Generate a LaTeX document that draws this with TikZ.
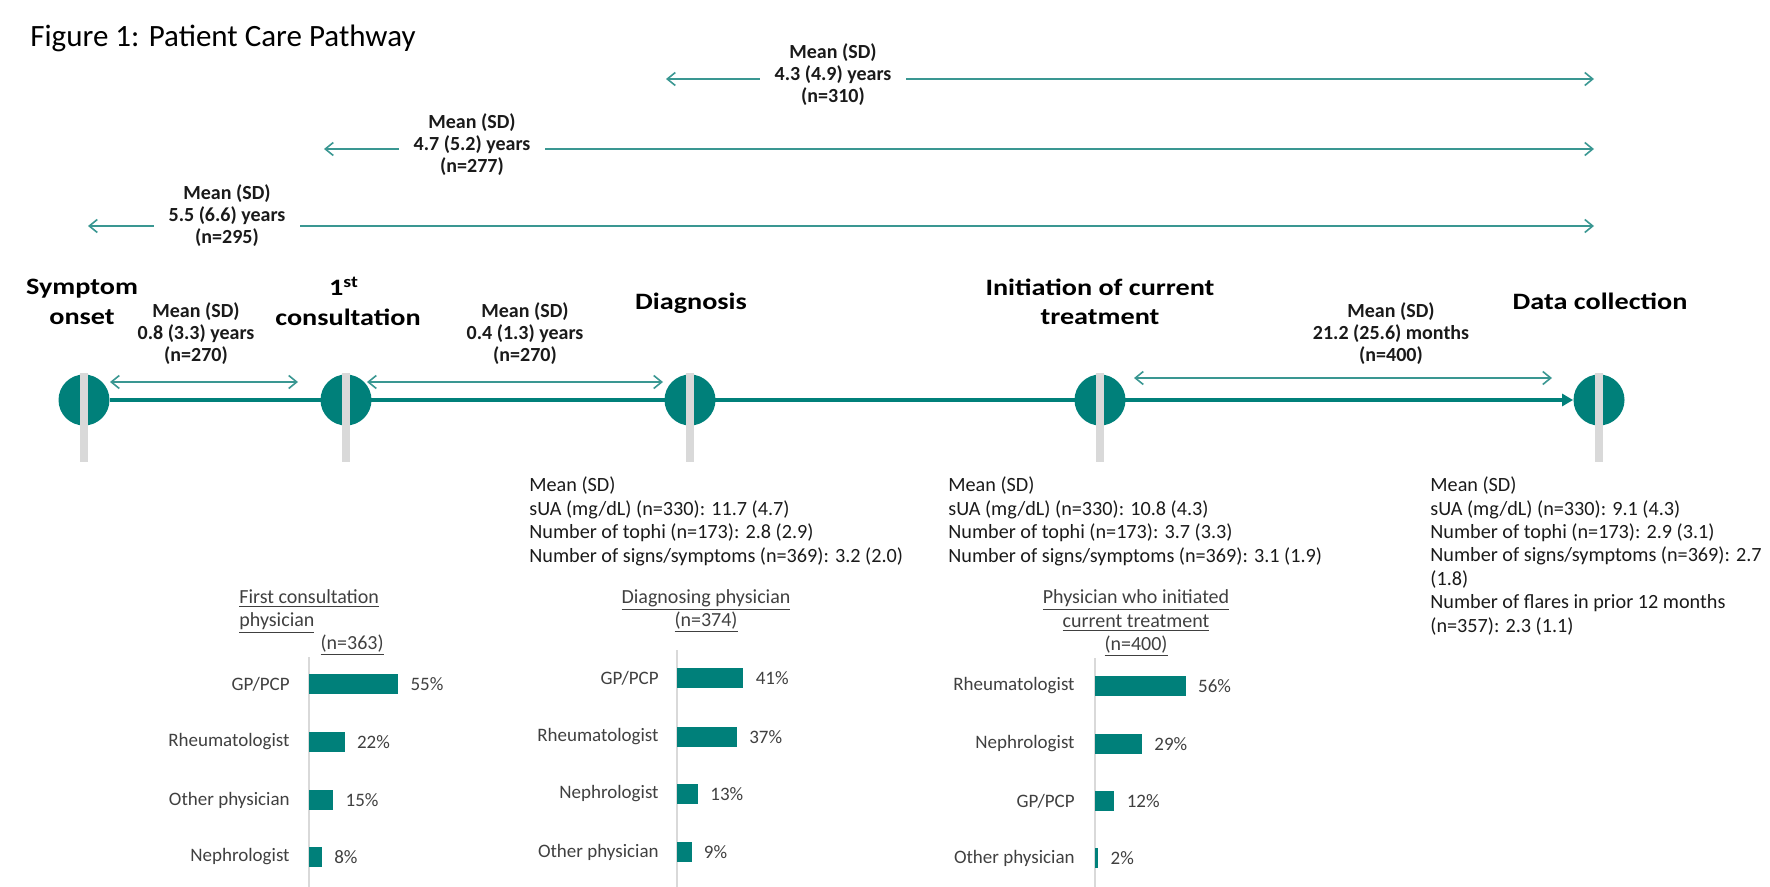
\documentclass[tikz,border=0pt]{standalone}
\usepackage{fontspec}
\setmainfont{Carlito}
\newfontfamily\hdrfont[FakeStretch=1.2]{Carlito}
\usetikzlibrary{arrows.meta}

\definecolor{pathteal}{HTML}{00807A}
\definecolor{spanteal}{HTML}{3A9792}
\definecolor{stemgray}{HTML}{D9D9D9}
\definecolor{labelgray}{HTML}{404040}
\definecolor{txtblack}{HTML}{1A1A1A}

\tikzset{
    milestone/.style={circle, fill=pathteal, minimum size=25.5pt, inner sep=0pt},
    hdr/.style={font=\hdrfont\fontsize{11.75}{14}\selectfont\bfseries, anchor=base, inner sep=0pt},
    gaplbl/.style={font=\fontsize{10}{11}\selectfont\bfseries, text=txtblack, align=center, inner sep=0pt},
    toplbl/.style={gaplbl, fill=white, inner xsep=7.5pt, inner ysep=1pt},
    spanarrow/.style={{Straight Barb[length=4pt,width=6.5pt]}-{Straight Barb[length=4pt,width=6.5pt]}, spanteal, line width=0.8pt},
    datablk/.style={font=\fontsize{10.1}{11.7}\selectfont, text=txtblack, align=left, anchor=base west, inner sep=0pt},
    charthdr/.style={font=\fontsize{10}{11.5}\selectfont, text=labelgray, inner sep=0pt},
    cat/.style={font=\fontsize{9.5}{11}\selectfont, text=labelgray, anchor=east, inner sep=0pt},
    pct/.style={font=\fontsize{9.5}{11}\selectfont, text=labelgray, anchor=west, inner sep=0pt},
    bar/.style={fill=pathteal},
    chartaxis/.style={draw=stemgray, line width=0.6pt}
}

\begin{document}
\begin{tikzpicture}[x=0.5pt, y=-0.5pt]
            \useasboundingbox (0,0) rectangle (1770,887);

            \node[anchor=base west, font=\fontsize{15.5}{18}\selectfont, inner sep=0pt] (title) at (30,47) {Figure 1: Patient Care Pathway};

            \coordinate (t1l) at (666,79);
            \coordinate (t1r) at (1594,79);
            \coordinate (t2l) at (324,149);
            \coordinate (t2r) at (1594,149);
            \coordinate (t3l) at (88,226);
            \coordinate (t3r) at (1594,226);
            \draw[spanarrow] (t1l) -- (t1r);
            \draw[spanarrow] (t2l) -- (t2r);
            \draw[spanarrow] (t3l) -- (t3r);
            \node[toplbl] (t1) at (833,75) {Mean (SD)\\4.3 (4.9) years\\(n=310)};
            \node[toplbl] (t2) at (472,145) {Mean (SD)\\4.7 (5.2) years\\(n=277)};
            \node[toplbl] (t3) at (227,216) {Mean (SD)\\5.5 (6.6) years\\(n=295)};

            \node[hdr] (hsym) at (82,295) {Symptom};
            \node[hdr] (honset) at (82,325) {onset};
            \node[hdr] (hfirst) at (344,296) {1\textsuperscript{st}};
            \node[hdr] (hcons) at (348,326) {consultation};
            \node[hdr] (hdiag) at (691,310) {Diagnosis};
            \node[hdr] (hinit) at (1100,296) {Initiation of current};
            \node[hdr] (htreat) at (1100,325) {treatment};
            \node[hdr] (hdata) at (1600,310) {Data collection};

            \node[milestone] (onset) at (84,400) {};
            \node[milestone] (consult) at (346,400) {};
            \node[milestone] (diag) at (690,400) {};
            \node[milestone] (init) at (1100,400) {};
            \node[milestone] (collect) at (1599,400) {};
            \draw[pathteal, line width=2.2pt, -{Triangle[length=5.5pt,width=6pt]}] (onset) -- (collect);
            \foreach \m in {onset,consult,diag,init,collect}
                \fill[stemgray] ([xshift=-2.2pt,yshift=13.5pt]\m.center) rectangle ([xshift=2.2pt,yshift=-31pt]\m.center);

            \coordinate (g1l) at (110,382);
            \coordinate (g1r) at (298,382);
            \coordinate (g2l) at (367,382);
            \coordinate (g2r) at (663,382);
            \coordinate (g3l) at (1134,378);
            \coordinate (g3r) at (1552,378);
            \draw[spanarrow] (g1l) -- (g1r);
            \draw[spanarrow] (g2l) -- (g2r);
            \draw[spanarrow] (g3l) -- (g3r);
            \node[gaplbl] (g1) at (196,334) {Mean (SD)\\0.8 (3.3) years\\(n=270)};
            \node[gaplbl] (g2) at (525,334) {Mean (SD)\\0.4 (1.3) years\\(n=270)};
            \node[gaplbl] (g3) at (1391,334) {Mean (SD)\\21.2 (25.6) months\\(n=400)};

            \node[datablk] (d1) at (529,562) {Mean (SD)\\sUA (mg/dL) (n=330): 11.7 (4.7)\\Number of tophi (n=173): 2.8 (2.9)\\Number of signs/symptoms (n=369): 3.2 (2.0)};
            \node[datablk] (d2) at (948,562) {Mean (SD)\\sUA (mg/dL) (n=330): 10.8 (4.3)\\Number of tophi (n=173): 3.7 (3.3)\\Number of signs/symptoms (n=369): 3.1 (1.9)};
            \node[datablk] (d3) at (1430,632) {Mean (SD)\\sUA (mg/dL) (n=330): 9.1 (4.3)\\Number of tophi (n=173): 2.9 (3.1)\\Number of signs/symptoms (n=369): 2.7\\(1.8)\\Number of flares in prior 12 months\\(n=357): 2.3 (1.1)};

            \node[charthdr, anchor=base west] (c1ta) at (239,603) {\underline{First consultation}};
            \node[charthdr, anchor=base west] (c1tb) at (239,626) {\underline{physician}};
            \node[charthdr, anchor=base east] (c1tc) at (384,649) {\underline{(n=363)}};
            \draw[chartaxis] (309,657) -- (309,887);
            \foreach \cat/\val/\by [count=\i] in {{GP/PCP}/55/684, Rheumatologist/22/742, Other physician/15/800, Nephrologist/8/857} {
                \fill[bar] (309,\by-10) rectangle (309+1.62*\val,\by+10);
                \node[cat] (c1cat\i) at (290,\by) {\cat};
                \node[pct] (c1pct\i) at (321+1.62*\val,\by) {\val\%};
            }

            \node[charthdr, anchor=base] (c2ta) at (706,603) {\underline{Diagnosing physician}};
            \node[charthdr, anchor=base] (c2tb) at (706,626) {\underline{(n=374)}};
            \draw[chartaxis] (677,650) -- (677,887);
            \foreach \cat/\val/\by [count=\i] in {{GP/PCP}/41/678, Rheumatologist/37/737, Nephrologist/13/794, Other physician/9/852} {
                \fill[bar] (677,\by-10) rectangle (677+1.62*\val,\by+10);
                \node[cat] (c2cat\i) at (659,\by) {\cat};
                \node[pct] (c2pct\i) at (689+1.62*\val,\by) {\val\%};
            }

            \node[charthdr, anchor=base] (c3ta) at (1136,603) {\underline{Physician who initiated}};
            \node[charthdr, anchor=base] (c3tb) at (1136,627) {\underline{current treatment}};
            \node[charthdr, anchor=base] (c3tc) at (1136,650) {\underline{(n=400)}};
            \draw[chartaxis] (1095,658) -- (1095,887);
            \foreach \cat/\val/\by [count=\i] in {Rheumatologist/56/686, Nephrologist/29/744, {GP/PCP}/12/801, Other physician/2/858} {
                \fill[bar] (1095,\by-10) rectangle (1095+1.62*\val,\by+10);
                \node[cat] (c3cat\i) at (1075,\by) {\cat};
                \node[pct] (c3pct\i) at (1107+1.62*\val,\by) {\val\%};
            }
\end{tikzpicture}
\end{document}
